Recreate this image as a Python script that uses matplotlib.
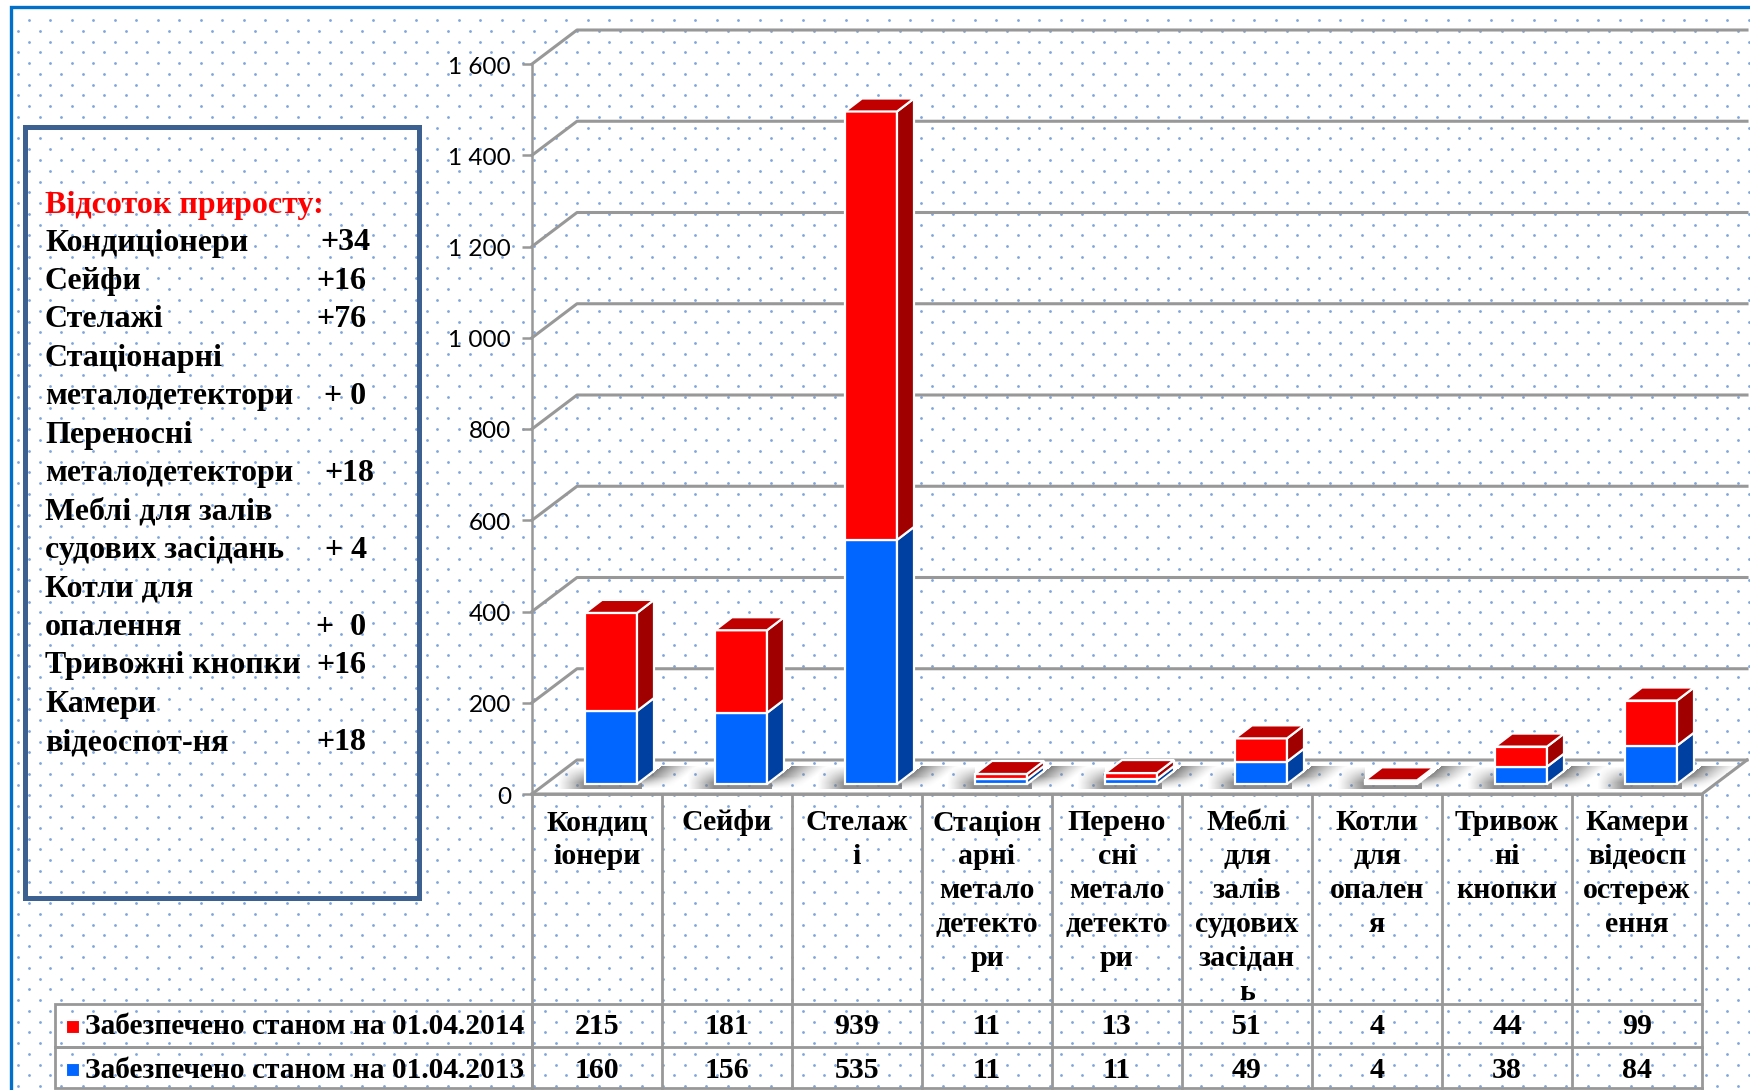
import numpy as np
import matplotlib
matplotlib.use("Agg")
import matplotlib.pyplot as plt
from matplotlib.patches import Polygon, Rectangle
from matplotlib.transforms import ScaledTranslation

categories = ["Кондиц\nіонери", "Сейфи", "Стелаж\nі", "Стаціон\nарні\nметало\nдетекто\nри",
              "Перено\nсні\nметало\nдетекто\nри", "Меблі\nдля\nзалів\nсудових\nзасідан\nь",
              "Котли\nдля\nопален\nя", "Тривож\nні\nкнопки", "Камери\nвідеосп\nостереж\nення"]
v2014 = [215, 181, 939, 11, 13, 51, 4, 44, 99]
v2013 = [160, 156, 535, 11, 11, 49, 4, 38, 84]
label2014 = "Забезпечено станом на 01.04.2014"
label2013 = "Забезпечено станом на 01.04.2013"
box_title = "Відсоток приросту:"
box_lines = ["Кондиціонери", "Сейфи", "Стелажі", "Стаціонарні", "металодетектори", "Переносні",
             "металодетектори", "Меблі для залів", "судових засідань", "Котли для", "опалення",
             "Тривожні кнопки", "Камери", "відеоспот-ня"]
box_values = ["+34", "+16", "+76", "", "+ 0", "", "+18", "", "+ 4", "", "+  0", "+16", "", "+18"]
box_value_right = [370, 366, 366, 0, 366, 0, 374, 0, 367, 0, 366, 366, 0, 366]
yticks = [0, 200, 400, 600, 800, 1000, 1200, 1400, 1600]

W, H = 1750, 1090
SERIF = "Liberation Serif"
GREY = "#989898"
RED, RED_S, RED_T = "#ff0000", "#a00000", "#c00000"
BLUE, BLUE_S, BLUE_T = "#0066ff", "#0040a0", "#0050c8"

fig = plt.figure(figsize=(W / 100, H / 100), dpi=100, facecolor="white")

# ---- page layer in pixel coordinates
bg = fig.add_axes([0, 0, 1, 1], zorder=0)
bg.set_xlim(0, W); bg.set_ylim(H, 0); bg.axis("off")
rows = np.arange(20, H, 10.77)
xs, ys = [], []
for i, r in enumerate(rows):
    start = 28.7 if i % 2 == 0 else 18.0
    col = np.arange(start, W, 21.5)
    xs.append(col); ys.append(np.full(col.size, r))
xs, ys = np.concatenate(xs), np.concatenate(ys)
bg.scatter(xs, ys, s=4, color="#7fa6dc", linewidths=0, zorder=1)
bg.plot([11, 11, W], [H, 7, 7], color="#0070c8", lw=2.4, zorder=2, solid_joinstyle="miter")
bg.add_patch(Rectangle((25, 127), 394, 771, fill=False, ec="#3c6090", lw=3.6, zorder=2))

BOX_FS = 23
bg.text(45, 205, box_title, color="#ff0000", family=SERIF, weight="bold", fontsize=BOX_FS, va="center", zorder=5)
for i, (t, v, r) in enumerate(zip(box_lines, box_values, box_value_right)):
    y = 243 + i * 38.45
    bg.text(45, y, t, color="black", family=SERIF, weight="bold", fontsize=BOX_FS, va="center", zorder=5)
    if v:
        bg.text(r, y, v, color="black", family=SERIF, weight="bold", fontsize=BOX_FS, va="center", ha="right", zorder=5)

# legend cells
for y0, y1 in [(1004, 1047), (1047, 1088)]:
    bg.add_patch(Rectangle((55, y0), 477, y1 - y0, fill=False, ec=GREY, lw=2, zorder=3))
for y, c, t, ty in [(1026, RED, label2014, 1027), (1069, BLUE, label2013, 1071)]:
    bg.add_patch(Rectangle((66, y - 6.5), 13, 13, fc=c, ec="white", lw=0.8, zorder=4))
    bg.text(85, ty, t, color="black", family=SERIF, weight="bold", fontsize=21.2, va="center", zorder=5)

# ---- chart layer: front plane of the value axis
ax = fig.add_axes([532 / W, 1 - 794 / H, (1702 - 532) / W, 730 / H], zorder=2)
ax.patch.set_alpha(0)
ax.set_xlim(0, 9); ax.set_ylim(0, 1600)
for s in ["top", "right", "bottom"]:
    ax.spines[s].set_visible(False)
ax.spines["left"].set_color(GREY); ax.spines["left"].set_linewidth(1.8)
ax.set_xticks([])
ax.set_yticks(yticks)
ax.set_yticklabels([f"{v:,}".replace(",", " ") for v in yticks], family="Lato", fontsize=17.5)
ax.tick_params(axis="y", length=7.2, width=1.8, color=GREY, pad=8)
for lab in ax.get_yticklabels():
    lab.set_transform(lab.get_transform() + ScaledTranslation(0, -1 / 100, fig.dpi_scale_trans))

px_x = 9 / (1702 - 532)      # data units per pixel
px_y = 1600 / 730
wall_dx, wall_dy = 45 * px_x, 34 * px_y

# walls and floor
for v in yticks:
    ax.plot([0, wall_dx, 9 + wall_dx], [v, v + wall_dy, v + wall_dy], color=GREY, lw=2.2,
            clip_on=False, zorder=1)
ax.plot([0, 9, 9 + wall_dx], [0, 0, wall_dy], color=GREY, lw=2.2, clip_on=False, zorder=1)

# bars are drawn on a plane shifted into the chart's depth
SHIFT_X, SHIFT_Y = 14, 10
tr = ax.transData + ScaledTranslation(SHIFT_X / 100, SHIFT_Y / 100, fig.dpi_scale_trans)
BW_PX, SIDE_X, SIDE_Y = 52, 17, 13
bw = BW_PX * px_x
dx, dy = SIDE_X * px_x, SIDE_Y * px_y
x = np.arange(9) + 0.5

# soft floor shadows, one alpha map along the floor strip
gx, gy = np.meshgrid(np.arange(532, 1750), np.arange(758, 792))
alpha = np.zeros(gx.shape)
for xi in x:
    c = 532 + xi / px_x + SHIFT_X
    L, R = c - BW_PX / 2, c + BW_PX / 2
    left = np.clip((gx - (L - 28)) / 28, 0, 1) ** 1.2 * np.clip((gy - 766) / 16, 0, 1) * (gx < L) * (gy < 789)
    under = 1.0 * ((gx >= L) & (gx <= R + 4) & (gy >= 783) & (gy < 789))
    edge_x = R + (785 - gy) * SIDE_X / SIDE_Y
    u = gx - edge_x
    right = np.clip(1 - u / 36, 0, 1) ** 1.3 * (u > -1) * (gy > 765) * np.clip((788 - gy) / 12, 0, 1)
    alpha = np.maximum.reduce([alpha, left * 0.9, under * 0.85, right * 0.9])
rgba = np.zeros(gx.shape + (4,))
rgba[..., :3] = 0.48
rgba[..., 3] = alpha
ax.imshow(rgba, extent=[0, (1750 - 532) * px_x, (794 - 792) * px_y, (794 - 758) * px_y], origin="upper",
          aspect="auto", zorder=1.5, interpolation="bilinear", clip_on=False)
ax.set_xlim(0, 9); ax.set_ylim(0, 1600)

edge = dict(edgecolor="white", linewidth=1.6, clip_on=False, zorder=4, transform=tr)
ax.bar(x, v2013, bw, color=BLUE, **edge)
ax.bar(x, v2014, bw, bottom=v2013, color=RED, **edge)
for xi, a, b in zip(x, v2013, v2014):
    r = xi + bw / 2
    l = xi - bw / 2
    ax.add_patch(Polygon([(r, 0), (r + dx, dy), (r + dx, a + dy), (r, a)], fc=BLUE_S, **edge))
    ax.add_patch(Polygon([(r, a), (r + dx, a + dy), (r + dx, a + b + dy), (r, a + b)], fc=RED_S, **edge))
    t = a + b
    ax.add_patch(Polygon([(l, t), (l + dx, t + dy), (r + dx, t + dy), (r, t)], fc=RED_T, **edge))

# data table under the plot
xf = ax.get_xaxis_transform()
def yf(py):
    return (794 - py) / 730
for i in range(10):
    ax.plot([i, i], [yf(794), yf(1088)], transform=xf, color=GREY, lw=2, clip_on=False)
for py in [794, 1004, 1047, 1088]:
    ax.plot([0, 9], [yf(py), yf(py)], transform=xf, color=GREY, lw=2, clip_on=False)
CAT_FS = 21.5
for xi, c, a, b in zip(x, categories, v2014, v2013):
    for j, line in enumerate(c.split("\n")):
        ax.text(xi, yf(823 + j * 33.8), line, transform=xf, ha="center", va="center", family=SERIF,
                weight="bold", fontsize=CAT_FS, color="black", clip_on=False)
    ax.text(xi, yf(1027), str(a), transform=xf, ha="center", va="center", family=SERIF, weight="bold",
            fontsize=CAT_FS, color="black")
    ax.text(xi, yf(1070), str(b), transform=xf, ha="center", va="center", family=SERIF, weight="bold",
            fontsize=CAT_FS, color="black")

fig.savefig("out.png", dpi=100)
